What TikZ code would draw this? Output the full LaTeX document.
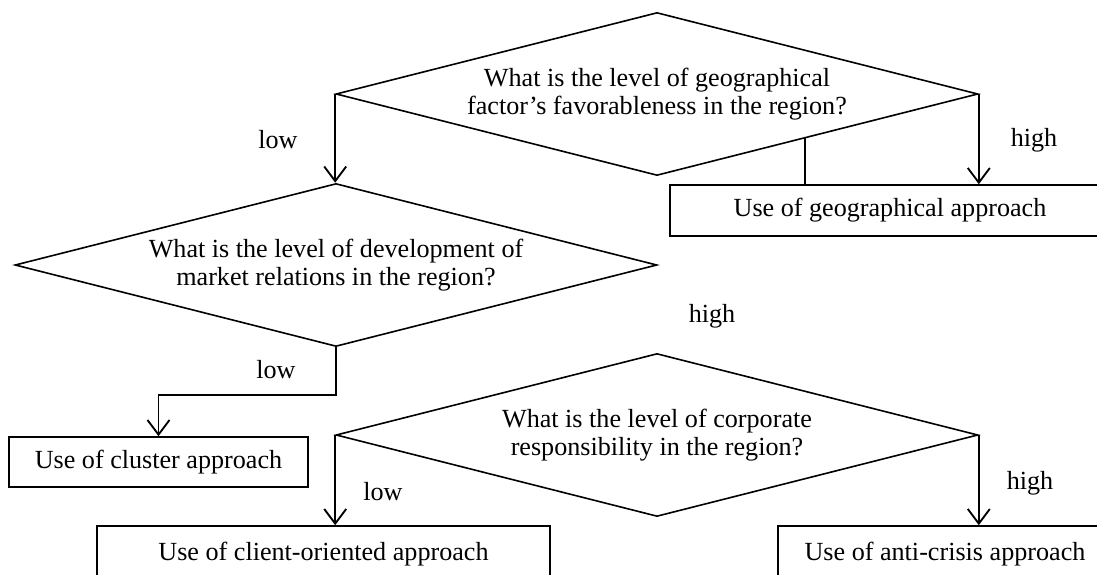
\documentclass[tikz,border=0pt]{standalone}
\usepackage{fontspec}
\setmainfont{Liberation Serif}
\usetikzlibrary{shapes.geometric,arrows.meta,calc}
\begin{document}
\begin{tikzpicture}[x=0.75pt,y=0.75pt,line width=1.2pt,>={Straight Barb[length=11pt,width=16.5pt]},
    decision/.style={diamond,draw,aspect=3.94,inner sep=0pt,align=center,minimum width=481.5pt,minimum height=122.25pt},
    outcome/.style={draw,inner sep=0pt},
    flow/.style={->,line width=1.4pt},
    every node/.append style={font=\fontsize{19.6}{21}\selectfont}]
  \clip(0,0)rectangle(1097,-575);
  % questions
  \node[decision](q1)at(657,-94){What is the level of geographical\\factor's favorableness in the region?};
  \node[decision](q2)at(336,-265){What is the level of development of\\market relations in the region?};
  \node[decision](q3)at(657,-435){What is the level of corporate\\responsibility in the region?};
  % approaches
  \node[outcome,minimum width=330pt,minimum height=38.25pt](geo)at(890,-210.5){Use of geographical approach};
  \node[outcome,minimum width=224.25pt,minimum height=37.5pt](cluster)at(158.5,-462){Use of cluster approach};
  \node[outcome,minimum width=339.75pt,minimum height=42pt](client)at(323.5,-554){Use of client-oriented approach};
  \node[outcome,minimum width=250.5pt,minimum height=42pt](crisis)at(945,-554){Use of anti-crisis approach};
  % connectors
  \draw[flow](q1.west)--(q1.west|-q2.north);
  \draw[flow](q1.east)--(q1.east|-geo.north);
  \coordinate(m)at($(q1.south)!.46!(q1.east)$);
  \draw(m)--(m|-geo.north);
  \draw[flow](q2.south)--++(0,-48)-|(cluster.north);
  \draw[flow](q3.west)--(q3.west|-client.north);
  \draw[flow](q3.east)--(q3.east|-crisis.north);
  % answers
  \node(a1)at(278,-140){low};
  \node(a2)at(1034,-140){high};
  \node(a3)at(276,-370){low};
  \node(a4)at(712,-316){high};
  \node(a5)at(383,-492){low};
  \node(a6)at(1030,-483){high};
\end{tikzpicture}
\end{document}
